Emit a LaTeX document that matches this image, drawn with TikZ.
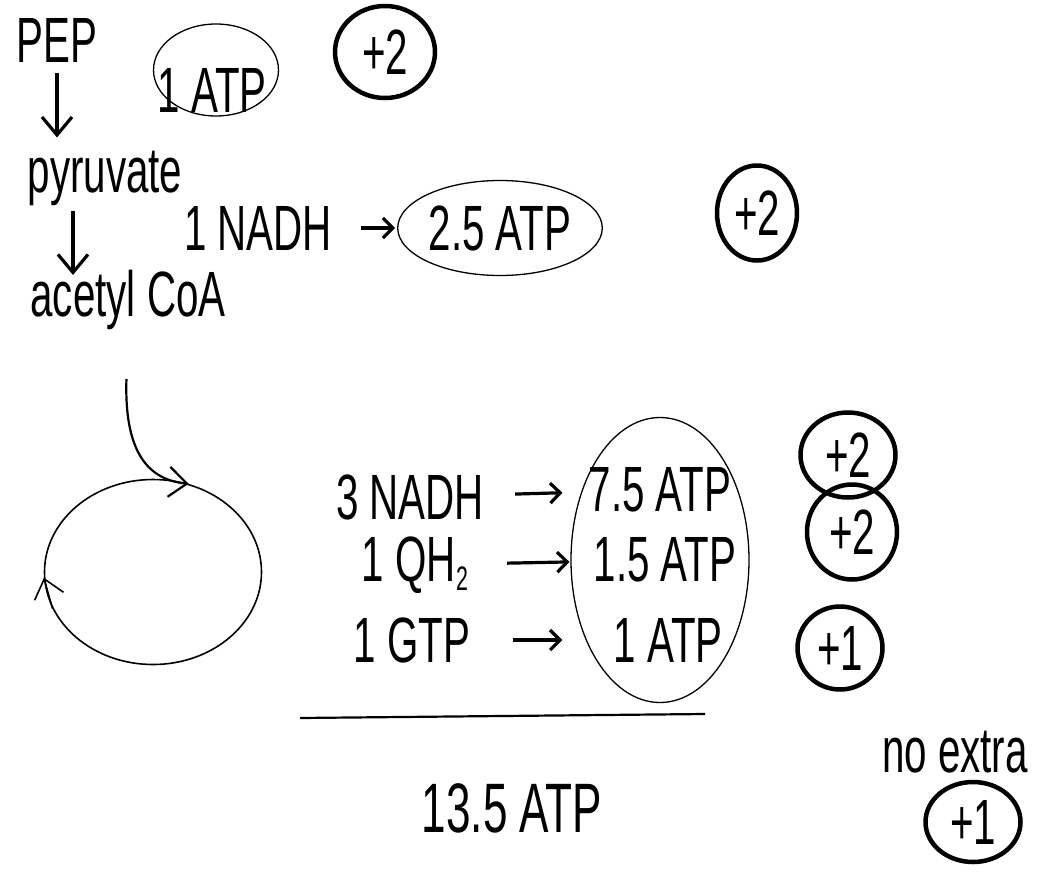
\documentclass[tikz,border=0pt]{standalone}
\usepackage{fontspec}
\setmainfont{Liberation Sans}
\newfontfamily\handfamily[FakeStretch=0.63]{Liberation Sans}
\usetikzlibrary{positioning, shapes.geometric, arrows.meta}

\begin{document}
\begin{tikzpicture}[x=1pt, y=-1pt, every node/.style={inner sep=1pt, font=\handfamily\fontsize{64}{68}\selectfont},
    ring/.style={draw, ellipse, line width=1.3pt},
    badge/.style={draw, ellipse, line width=4.5pt, inner sep=0pt},
    flow/.style={-{Straight Barb[length=18pt, width=30pt]}, line width=3.2pt},
    yields/.style={-{Straight Barb[length=10pt, width=20pt]}, line width=3.2pt}]

    \useasboundingbox (0,0) rectangle (1042,876);

    % glycolysis end
    \node (pep) at (57,40) {PEP};
    \node (pyr) at (105,178) {pyruvate};
    \node (acoa) at (128,300) {acetyl CoA};
    \draw[flow, shorten <=10pt, shorten >=12pt] (pep.south) -- (pep.south |- pyr.north);
    \draw[flow, shorten <=4pt, shorten >=-6pt] ([xshift=-32pt]pyr.south) -- ([xshift=-32pt]pyr.south |- acoa.north);

    \node (ring0) [ring, minimum width=125pt, minimum height=92pt] at (216,70) {};
    \node (atp0) at (212,90) {1 ATP};
    \node (plus0) [badge, minimum width=100pt, minimum height=92pt] at (385,52) {+2};

    % pyruvate dehydrogenase
    \node (nadh1) at (258,228) {1 NADH};
    \node (atp1) [ring, minimum width=180pt, minimum height=95pt] at (500,228) {2.5 ATP};
    \draw[yields, shorten >=2pt, shorten <=28pt] (nadh1) -- (atp1);
    \node (plus1) [badge, minimum width=80pt, minimum height=95pt] at (757,213) {+2};

    % citric acid cycle
    \node (krebs) [ring, line width=1.6pt, minimum width=217pt, minimum height=185pt] at (153,572) {};
    \draw[flow, line width=2.2pt, shorten <=48pt] (acoa.south) .. controls (124,455) and (150,480) .. (krebs.68);
    \draw[flow, line width=1.6pt] (krebs.200) -- (krebs.183);

    \node (nadh3) at (410,497) {3 NADH};
    \node (qh2) at (415,565) {1 QH\raisebox{-9pt}{\fontsize{34}{34}\selectfont 2}};
    \node (gtp) at (412,640) {1 GTP};
    \node (atp75) at (660,490) {7.5 ATP};
    \node (atp15) at (665,560) {1.5 ATP};
    \node (atp1b) at (668,640) {1 ATP};
    \node (atpring) [ring, minimum width=178pt, minimum height=285pt] at (660,560) {};
    \draw[yields, shorten <=30pt, shorten >=25pt] (nadh3) -- (atp75);
    \draw[yields, shorten <=38pt, shorten >=23pt] (qh2) -- (atp15);
    \draw[yields, shorten <=42pt, shorten >=50pt] (gtp) -- (atp1b);

    \node (plus2a) [badge, minimum width=95pt, minimum height=85pt] at (848,455) {+2};
    \node (plus2b) [badge, minimum width=90pt, minimum height=95pt] at (852,532) {+2};
    \node (plus1a) [badge, minimum width=85pt, minimum height=83pt] at (840,648) {+1};

    % total
    \coordinate (sumL) at (300,718);
    \coordinate (sumR) at (705,714);
    \draw[line width=2.2pt] (sumL) -- (sumR);
    \node (total) [font=\handfamily\fontsize{70}{74}\selectfont] at (512,808) {13.5 ATP};

    \node (noextra) at (955,752) {no extra};
    \node (plus1b) [badge, minimum width=95pt, minimum height=80pt] at (973,822) {+1};
\end{tikzpicture}
\end{document}
